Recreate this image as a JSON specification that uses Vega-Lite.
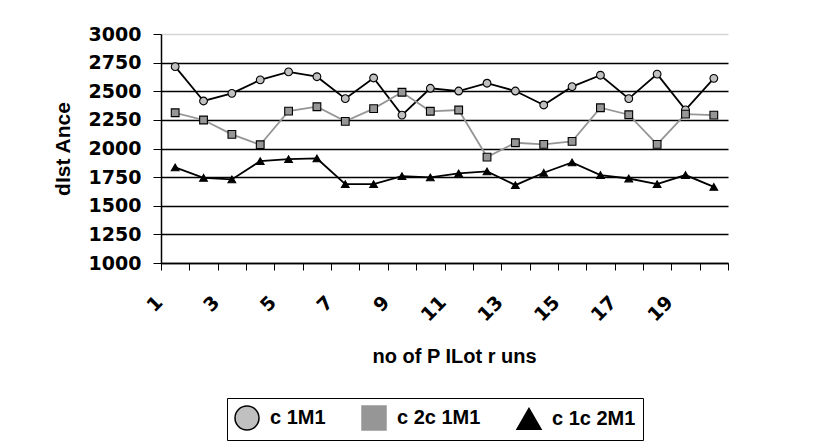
{
  "$schema": "https://vega.github.io/schema/vega-lite/v6.json",
  "width": 567,
  "height": 229,
  "autosize": {"type": "none"},
  "padding": {"left": 161, "top": 34, "right": 86, "bottom": 182},
  "background": "white",
  "config": {
    "view": {"stroke": null},
    "font": "Liberation Sans",
    "axis": {"labelColor": "black", "titleColor": "black", "labelFontWeight": "bold", "titleFontWeight": "bold", "domainColor": "black", "tickColor": "black", "labelFont": "DejaVu Sans", "titleFont": "Liberation Sans"}
  },
  "data": {
    "values": [
      {"run": 1, "series": "c1M1", "value": 2715},
      {"run": 2, "series": "c1M1", "value": 2415},
      {"run": 3, "series": "c1M1", "value": 2482},
      {"run": 4, "series": "c1M1", "value": 2599},
      {"run": 5, "series": "c1M1", "value": 2669},
      {"run": 6, "series": "c1M1", "value": 2627},
      {"run": 7, "series": "c1M1", "value": 2435},
      {"run": 8, "series": "c1M1", "value": 2616},
      {"run": 9, "series": "c1M1", "value": 2292},
      {"run": 10, "series": "c1M1", "value": 2526},
      {"run": 11, "series": "c1M1", "value": 2502},
      {"run": 12, "series": "c1M1", "value": 2570},
      {"run": 13, "series": "c1M1", "value": 2502},
      {"run": 14, "series": "c1M1", "value": 2380},
      {"run": 15, "series": "c1M1", "value": 2540},
      {"run": 16, "series": "c1M1", "value": 2640},
      {"run": 17, "series": "c1M1", "value": 2435},
      {"run": 18, "series": "c1M1", "value": 2650},
      {"run": 19, "series": "c1M1", "value": 2338},
      {"run": 20, "series": "c1M1", "value": 2613},
      {"run": 1, "series": "c2c1M1", "value": 2312},
      {"run": 2, "series": "c2c1M1", "value": 2249},
      {"run": 3, "series": "c2c1M1", "value": 2123},
      {"run": 4, "series": "c2c1M1", "value": 2033},
      {"run": 5, "series": "c2c1M1", "value": 2327},
      {"run": 6, "series": "c2c1M1", "value": 2365},
      {"run": 7, "series": "c2c1M1", "value": 2237},
      {"run": 8, "series": "c2c1M1", "value": 2348},
      {"run": 9, "series": "c2c1M1", "value": 2491},
      {"run": 10, "series": "c2c1M1", "value": 2325},
      {"run": 11, "series": "c2c1M1", "value": 2336},
      {"run": 12, "series": "c2c1M1", "value": 1925},
      {"run": 13, "series": "c2c1M1", "value": 2050},
      {"run": 14, "series": "c2c1M1", "value": 2036},
      {"run": 15, "series": "c2c1M1", "value": 2062},
      {"run": 16, "series": "c2c1M1", "value": 2356},
      {"run": 17, "series": "c2c1M1", "value": 2295},
      {"run": 18, "series": "c2c1M1", "value": 2036},
      {"run": 19, "series": "c2c1M1", "value": 2300},
      {"run": 20, "series": "c2c1M1", "value": 2292},
      {"run": 1, "series": "c1c2M1", "value": 1835},
      {"run": 2, "series": "c1c2M1", "value": 1744},
      {"run": 3, "series": "c1c2M1", "value": 1730},
      {"run": 4, "series": "c1c2M1", "value": 1890},
      {"run": 5, "series": "c1c2M1", "value": 1907},
      {"run": 6, "series": "c1c2M1", "value": 1913},
      {"run": 7, "series": "c1c2M1", "value": 1689},
      {"run": 8, "series": "c1c2M1", "value": 1689},
      {"run": 9, "series": "c1c2M1", "value": 1759},
      {"run": 10, "series": "c1c2M1", "value": 1747},
      {"run": 11, "series": "c1c2M1", "value": 1782},
      {"run": 12, "series": "c1c2M1", "value": 1800},
      {"run": 13, "series": "c1c2M1", "value": 1680},
      {"run": 14, "series": "c1c2M1", "value": 1788},
      {"run": 15, "series": "c1c2M1", "value": 1879},
      {"run": 16, "series": "c1c2M1", "value": 1768},
      {"run": 17, "series": "c1c2M1", "value": 1738},
      {"run": 18, "series": "c1c2M1", "value": 1689},
      {"run": 19, "series": "c1c2M1", "value": 1768},
      {"run": 20, "series": "c1c2M1", "value": 1665}
    ]
  },
  "encoding": {
    "x": {
      "field": "run",
      "type": "ordinal",
      "scale": {"paddingInner": 0, "paddingOuter": 0},
      "axis": {
        "title": "no of P ILot r uns",
        "titleFontSize": 20,
        "titlePadding": 22,
        "titleX": 293,
        "labelExpr": "datum.value % 2 === 1 ? datum.label : ''",
        "labelAngle": -45,
        "labelAlign": "right",
        "labelBaseline": "middle",
        "labelOffset": -16,
        "labelPadding": 29,
        "labelFontSize": 19,
        "labelOverlap": false,
        "tickBand": "extent",
        "tickSize": 7,
        "domainWidth": 1.5,
        "grid": false
      }
    },
    "y": {
      "field": "value",
      "type": "quantitative",
      "scale": {"domain": [1000, 3000], "nice": false, "zero": false},
      "axis": {
        "title": "dIst Ance",
        "titleFontSize": 21,
        "titlePadding": 15,
        "format": "d",
        "values": [1000, 1250, 1500, 1750, 2000, 2250, 2500, 2750, 3000],
        "labelFontSize": 19,
        "labelPadding": 12,
        "tickSize": 8,
        "domainWidth": 1.5,
        "grid": true,
        "gridWidth": 1.4,
        "gridColor": {"condition": {"test": "datum.value === 3000", "value": "#d6d6d6"}, "value": "black"}
      }
    }
  },
  "layer": [
    {
      "mark": {"type": "line", "strokeWidth": 1.8},
      "encoding": {
        "stroke": {
          "field": "series",
          "type": "nominal",
          "scale": {"domain": ["c1M1", "c2c1M1", "c1c2M1"], "range": ["black", "#969696", "black"]}
        }
      }
    },
    {
      "mark": {"type": "point", "filled": true, "stroke": "black", "strokeWidth": 1.1, "size": 60, "opacity": 1},
      "encoding": {
        "shape": {
          "field": "series",
          "type": "nominal",
          "scale": {"domain": ["c1M1", "c2c1M1", "c1c2M1"], "range": ["circle", "square", "triangle-up"]},
          "legend": {
            "title": null,
            "orient": "none",
            "legendX": 66,
            "legendY": 364,
            "direction": "horizontal",
            "strokeColor": "black",
            "padding": 7,
            "columnPadding": 33,
            "symbolSize": 576,
            "symbolStrokeWidth": 1.5,
            "labelFont": "Liberation Sans",
            "labelFontSize": 20,
            "labelFontWeight": "bold",
            "labelColor": "black",
            "labelOffset": 10,
            "labelExpr": "datum.label === 'c1M1' ? 'c 1M1' : datum.label === 'c2c1M1' ? 'c 2c 1M1' : 'c 1c 2M1'"
          }
        },
        "fill": {
          "field": "series",
          "type": "nominal",
          "scale": {"domain": ["c1M1", "c2c1M1", "c1c2M1"], "range": ["#c0c0c0", "#969696", "black"]}
        }
      }
    }
  ]
}
